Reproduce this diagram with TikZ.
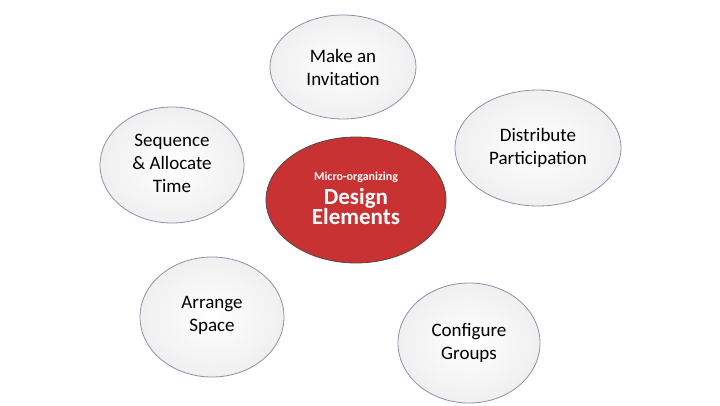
\documentclass[tikz,border=0pt]{standalone}
\usepackage{fontspec}
\setmainfont{Carlito}
\usetikzlibrary{shapes.geometric}
\definecolor{edgec}{RGB}{150,140,170}
\definecolor{redc}{RGB}{200,50,50}
\newcommand{\mylines}[1]{\begin{tabular}{@{}c@{}}#1\end{tabular}}
\tikzset{bub/.style={ellipse,draw=edgec,line width=0.8pt,inner color=white,outer color=gray!12,align=center,font=\fontsize{19}{23}\selectfont,inner sep=0pt}}
\begin{document}
\begin{tikzpicture}[x=1pt,y=-1pt]
\useasboundingbox (0,0) rectangle (720,405);
\node[bub,minimum width=146,minimum height=104] (inv) at (343,67) {Make an\\Invitation};
\node[bub,minimum width=144,minimum height=116] (seq) at (172,165) {\raisebox{0.4em}{\mylines{Sequence\\\& Allocate\\Time}}};
\node[bub,minimum width=166,minimum height=116] (dis) at (538,148) {Distribute\\Participation};
\node[bub,minimum width=144,minimum height=120] (arr) at (212,317) {\raisebox{1.2em}{\mylines{Arrange\\Space}}};
\node[bub,minimum width=142,minimum height=120] (cfg) at (469,343) {\raisebox{-0.9em}{\mylines{Configure\\Groups}}};
\node[ellipse,draw=black!70,line width=0.8pt,fill=redc,minimum width=180,minimum height=126,text=white,align=center,font=\bfseries,inner sep=0pt] (ctr) at (356,200) {\raisebox{0.8em}{\begin{tabular}{@{}c@{}}{\fontsize{12}{14}\selectfont Micro-organizing}\\[4pt]{\fontsize{23}{26}\selectfont Design}\\{\fontsize{23}{26}\selectfont Elements}\end{tabular}}};
\end{tikzpicture}
\end{document}
